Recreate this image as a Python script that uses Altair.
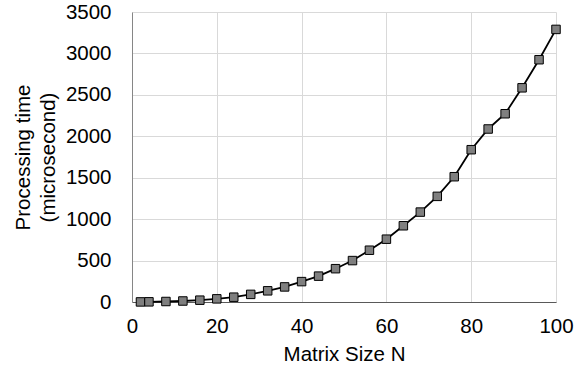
import altair as alt
import pandas as pd

matrix_size = [2, 4, 8, 12, 16, 20, 24, 28, 32, 36, 40, 44, 48, 52, 56, 60, 64, 68, 72, 76, 80, 84, 88, 92, 96, 100]
proc_time = [1, 2, 6, 12, 22, 38, 58, 92, 135, 182, 246, 312, 402, 500, 625, 758, 920, 1085, 1275, 1512, 1838, 2088, 2272, 2585, 2924, 3290]

df = pd.DataFrame({"N": matrix_size, "T": proc_time})

FONT = "Liberation Sans"

x = alt.X("N:Q", title="Matrix Size N",
          scale=alt.Scale(domain=[0, 100], nice=False),
          axis=alt.Axis(values=[0, 20, 40, 60, 80, 100], ticks=False, format="d",
                        domainColor="#595959", domainWidth=1,
                        gridColor="#d9d9d9", gridWidth=1,
                        labelFont=FONT, labelFontSize=20.5, labelColor="#000000",
                        labelPadding=14, titleFont=FONT, titleFontSize=20.5,
                        titleFontWeight="normal", titleColor="#000000",
                        titlePadding=8, labelFlush=False))
y = alt.Y("T:Q", title=["Processing time", "(microsecond)"],
          scale=alt.Scale(domain=[0, 3500], nice=False),
          axis=alt.Axis(values=[0, 500, 1000, 1500, 2000, 2500, 3000, 3500], ticks=False, format="d",
                        domainColor="#868686", domainWidth=1,
                        gridColor="#d9d9d9", gridWidth=1,
                        labelFont=FONT, labelFontSize=20.5, labelColor="#000000",
                        labelPadding=21, titleFont=FONT, titleFontSize=20.5,
                        titleFontWeight="normal", titleColor="#000000",
                        titlePadding=7, titleLineHeight=25, labelFlush=False))

line = alt.Chart(df).mark_line(color="#000000", strokeWidth=1.8).encode(x=x, y=y)
pts = alt.Chart(df).mark_point(shape="square", filled=True, fill="#7f7f7f",
                               stroke="#000000", strokeWidth=1, size=72,
                               opacity=1).encode(x="N:Q", y="T:Q")

chart = (line + pts).properties(
    width=424, height=290,
    autosize=alt.AutoSizeParams(type="none"),
    padding={"left": 132, "top": 12, "right": 26, "bottom": 67},
    background="#ffffff",
).configure_view(stroke=None)

chart.save("out.html", embed_options={"renderer": "svg", "actions": False})
